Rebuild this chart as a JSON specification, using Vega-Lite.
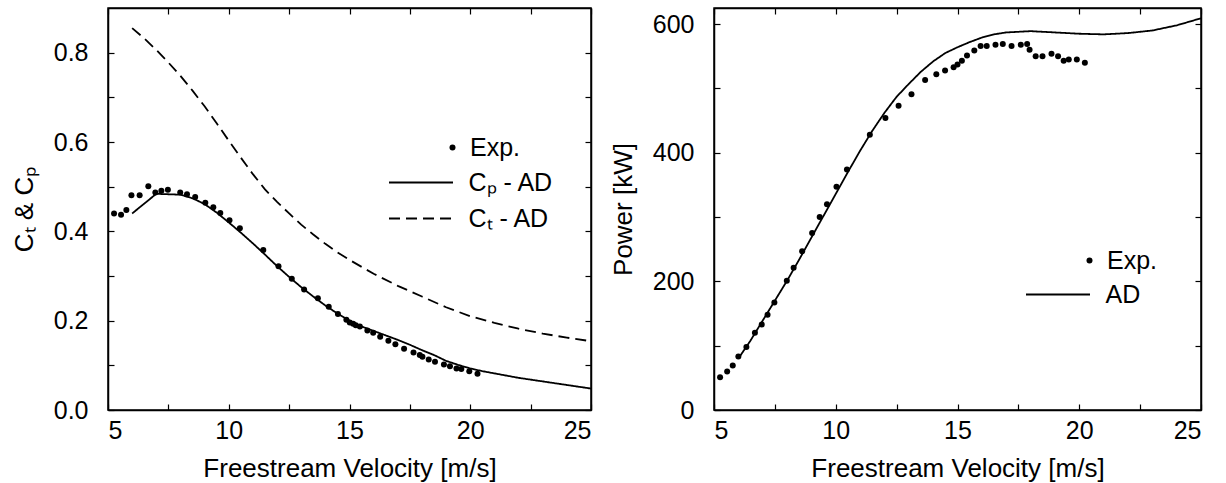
{
  "$schema": "https://vega.github.io/schema/vega-lite/v6.json",
  "padding": {"left": 10, "top": 6, "right": 5, "bottom": 0},
  "bounds": "flush",
  "spacing": 123,
  "resolve": {
    "scale": {"shape": "independent", "strokeDash": "independent"},
    "legend": {"shape": "independent", "strokeDash": "independent"}
  },
  "config": {
    "font": "Liberation Sans",
    "view": {"stroke": "black", "strokeWidth": 1.5},
    "axis": {
      "labelFont": "Liberation Sans", "labelFontSize": 25, "labelColor": "black",
      "titleFont": "Liberation Sans", "titleFontSize": 26, "titleFontWeight": "normal", "titleColor": "black",
      "domainColor": "black", "domainWidth": 1.5, "tickColor": "black", "tickWidth": 1.2,
      "tickSize": -6, "grid": false
    },
    "axisX": {"labelPadding": 14, "titlePadding": 12},
    "axisY": {"labelPadding": 26, "titlePadding": 16},
    "legend": {
      "orient": "none", "title": null, "padding": 0,
      "labelFont": "Liberation Sans", "labelFontSize": 25, "labelColor": "black",
      "symbolStrokeColor": "black", "symbolFillColor": "black", "symbolStrokeWidth": 1.8, "rowPadding": 10
    }
  },
  "datasets": {
    "left": [
      {"v": 5.25, "c": 0.440, "series": "Exp."},
      {"v": 5.54, "c": 0.437, "series": "Exp."},
      {"v": 5.76, "c": 0.448, "series": "Exp."},
      {"v": 5.97, "c": 0.481, "series": "Exp."},
      {"v": 6.31, "c": 0.481, "series": "Exp."},
      {"v": 6.67, "c": 0.501, "series": "Exp."},
      {"v": 6.96, "c": 0.487, "series": "Exp."},
      {"v": 7.21, "c": 0.491, "series": "Exp."},
      {"v": 7.48, "c": 0.493, "series": "Exp."},
      {"v": 7.99, "c": 0.487, "series": "Exp."},
      {"v": 8.27, "c": 0.483, "series": "Exp."},
      {"v": 8.61, "c": 0.477, "series": "Exp."},
      {"v": 9.03, "c": 0.464, "series": "Exp."},
      {"v": 9.36, "c": 0.454, "series": "Exp."},
      {"v": 9.65, "c": 0.441, "series": "Exp."},
      {"v": 10.03, "c": 0.425, "series": "Exp."},
      {"v": 10.46, "c": 0.407, "series": "Exp."},
      {"v": 11.43, "c": 0.358, "series": "Exp."},
      {"v": 12.06, "c": 0.322, "series": "Exp."},
      {"v": 12.61, "c": 0.294, "series": "Exp."},
      {"v": 13.12, "c": 0.270, "series": "Exp."},
      {"v": 13.69, "c": 0.250, "series": "Exp."},
      {"v": 14.14, "c": 0.231, "series": "Exp."},
      {"v": 14.52, "c": 0.215, "series": "Exp."},
      {"v": 14.87, "c": 0.202, "series": "Exp."},
      {"v": 15.01, "c": 0.196, "series": "Exp."},
      {"v": 15.15, "c": 0.193, "series": "Exp."},
      {"v": 15.26, "c": 0.190, "series": "Exp."},
      {"v": 15.43, "c": 0.187, "series": "Exp."},
      {"v": 15.74, "c": 0.178, "series": "Exp."},
      {"v": 15.98, "c": 0.173, "series": "Exp."},
      {"v": 16.27, "c": 0.164, "series": "Exp."},
      {"v": 16.61, "c": 0.155, "series": "Exp."},
      {"v": 16.90, "c": 0.147, "series": "Exp."},
      {"v": 17.26, "c": 0.137, "series": "Exp."},
      {"v": 17.65, "c": 0.129, "series": "Exp."},
      {"v": 17.91, "c": 0.123, "series": "Exp."},
      {"v": 18.02, "c": 0.119, "series": "Exp."},
      {"v": 18.28, "c": 0.113, "series": "Exp."},
      {"v": 18.54, "c": 0.108, "series": "Exp."},
      {"v": 18.91, "c": 0.102, "series": "Exp."},
      {"v": 19.16, "c": 0.098, "series": "Exp."},
      {"v": 19.43, "c": 0.093, "series": "Exp."},
      {"v": 19.63, "c": 0.092, "series": "Exp."},
      {"v": 19.96, "c": 0.087, "series": "Exp."},
      {"v": 20.30, "c": 0.081, "series": "Exp."},
      {"v": 6.0, "c": 0.440, "series": "Cₚ - AD"},
      {"v": 7.0, "c": 0.484, "series": "Cₚ - AD"},
      {"v": 8.0, "c": 0.482, "series": "Cₚ - AD"},
      {"v": 8.5, "c": 0.474, "series": "Cₚ - AD"},
      {"v": 9.0, "c": 0.461, "series": "Cₚ - AD"},
      {"v": 9.5, "c": 0.442, "series": "Cₚ - AD"},
      {"v": 10.0, "c": 0.420, "series": "Cₚ - AD"},
      {"v": 10.5, "c": 0.397, "series": "Cₚ - AD"},
      {"v": 11.0, "c": 0.373, "series": "Cₚ - AD"},
      {"v": 11.5, "c": 0.348, "series": "Cₚ - AD"},
      {"v": 12.0, "c": 0.322, "series": "Cₚ - AD"},
      {"v": 12.5, "c": 0.298, "series": "Cₚ - AD"},
      {"v": 13.0, "c": 0.275, "series": "Cₚ - AD"},
      {"v": 13.5, "c": 0.254, "series": "Cₚ - AD"},
      {"v": 14.0, "c": 0.234, "series": "Cₚ - AD"},
      {"v": 14.5, "c": 0.216, "series": "Cₚ - AD"},
      {"v": 15.0, "c": 0.200, "series": "Cₚ - AD"},
      {"v": 15.5, "c": 0.187, "series": "Cₚ - AD"},
      {"v": 16.0, "c": 0.177, "series": "Cₚ - AD"},
      {"v": 16.5, "c": 0.167, "series": "Cₚ - AD"},
      {"v": 17.0, "c": 0.157, "series": "Cₚ - AD"},
      {"v": 17.5, "c": 0.146, "series": "Cₚ - AD"},
      {"v": 18.0, "c": 0.134, "series": "Cₚ - AD"},
      {"v": 18.5, "c": 0.123, "series": "Cₚ - AD"},
      {"v": 19.0, "c": 0.110, "series": "Cₚ - AD"},
      {"v": 19.5, "c": 0.101, "series": "Cₚ - AD"},
      {"v": 20.0, "c": 0.093, "series": "Cₚ - AD"},
      {"v": 20.5, "c": 0.087, "series": "Cₚ - AD"},
      {"v": 21.0, "c": 0.082, "series": "Cₚ - AD"},
      {"v": 22.0, "c": 0.072, "series": "Cₚ - AD"},
      {"v": 23.0, "c": 0.064, "series": "Cₚ - AD"},
      {"v": 24.0, "c": 0.056, "series": "Cₚ - AD"},
      {"v": 25.0, "c": 0.048, "series": "Cₚ - AD"},
      {"v": 6.0, "c": 0.855, "series": "Cₜ - AD"},
      {"v": 6.5, "c": 0.832, "series": "Cₜ - AD"},
      {"v": 7.0, "c": 0.806, "series": "Cₜ - AD"},
      {"v": 7.5, "c": 0.778, "series": "Cₜ - AD"},
      {"v": 8.0, "c": 0.748, "series": "Cₜ - AD"},
      {"v": 8.5, "c": 0.715, "series": "Cₜ - AD"},
      {"v": 9.0, "c": 0.680, "series": "Cₜ - AD"},
      {"v": 9.5, "c": 0.642, "series": "Cₜ - AD"},
      {"v": 10.0, "c": 0.603, "series": "Cₜ - AD"},
      {"v": 10.5, "c": 0.565, "series": "Cₜ - AD"},
      {"v": 11.0, "c": 0.528, "series": "Cₜ - AD"},
      {"v": 11.5, "c": 0.494, "series": "Cₜ - AD"},
      {"v": 12.0, "c": 0.466, "series": "Cₜ - AD"},
      {"v": 12.5, "c": 0.440, "series": "Cₜ - AD"},
      {"v": 13.0, "c": 0.415, "series": "Cₜ - AD"},
      {"v": 13.5, "c": 0.393, "series": "Cₜ - AD"},
      {"v": 14.0, "c": 0.372, "series": "Cₜ - AD"},
      {"v": 14.5, "c": 0.353, "series": "Cₜ - AD"},
      {"v": 15.0, "c": 0.336, "series": "Cₜ - AD"},
      {"v": 16.0, "c": 0.305, "series": "Cₜ - AD"},
      {"v": 17.0, "c": 0.278, "series": "Cₜ - AD"},
      {"v": 18.0, "c": 0.254, "series": "Cₜ - AD"},
      {"v": 19.0, "c": 0.230, "series": "Cₜ - AD"},
      {"v": 20.0, "c": 0.210, "series": "Cₜ - AD"},
      {"v": 21.0, "c": 0.195, "series": "Cₜ - AD"},
      {"v": 22.0, "c": 0.182, "series": "Cₜ - AD"},
      {"v": 23.0, "c": 0.171, "series": "Cₜ - AD"},
      {"v": 24.0, "c": 0.162, "series": "Cₜ - AD"},
      {"v": 25.0, "c": 0.154, "series": "Cₜ - AD"}
    ],
    "right": [
      {"v": 5.25, "p": 51, "series": "Exp."},
      {"v": 5.54, "p": 60, "series": "Exp."},
      {"v": 5.77, "p": 69, "series": "Exp."},
      {"v": 6.00, "p": 83, "series": "Exp."},
      {"v": 6.33, "p": 98, "series": "Exp."},
      {"v": 6.68, "p": 120, "series": "Exp."},
      {"v": 6.96, "p": 133, "series": "Exp."},
      {"v": 7.20, "p": 148, "series": "Exp."},
      {"v": 7.48, "p": 167, "series": "Exp."},
      {"v": 7.99, "p": 201, "series": "Exp."},
      {"v": 8.27, "p": 221, "series": "Exp."},
      {"v": 8.62, "p": 247, "series": "Exp."},
      {"v": 9.03, "p": 275, "series": "Exp."},
      {"v": 9.34, "p": 300, "series": "Exp."},
      {"v": 9.64, "p": 320, "series": "Exp."},
      {"v": 10.03, "p": 347, "series": "Exp."},
      {"v": 10.46, "p": 374, "series": "Exp."},
      {"v": 11.40, "p": 428, "series": "Exp."},
      {"v": 12.04, "p": 454, "series": "Exp."},
      {"v": 12.58, "p": 473, "series": "Exp."},
      {"v": 13.11, "p": 491, "series": "Exp."},
      {"v": 13.67, "p": 513, "series": "Exp."},
      {"v": 14.13, "p": 522, "series": "Exp."},
      {"v": 14.49, "p": 528, "series": "Exp."},
      {"v": 14.84, "p": 533, "series": "Exp."},
      {"v": 15.00, "p": 537, "series": "Exp."},
      {"v": 15.18, "p": 543, "series": "Exp."},
      {"v": 15.39, "p": 551, "series": "Exp."},
      {"v": 15.69, "p": 559, "series": "Exp."},
      {"v": 15.95, "p": 566, "series": "Exp."},
      {"v": 16.20, "p": 566, "series": "Exp."},
      {"v": 16.56, "p": 568, "series": "Exp."},
      {"v": 16.86, "p": 569, "series": "Exp."},
      {"v": 17.22, "p": 566, "series": "Exp."},
      {"v": 17.60, "p": 568, "series": "Exp."},
      {"v": 17.86, "p": 569, "series": "Exp."},
      {"v": 17.96, "p": 560, "series": "Exp."},
      {"v": 18.21, "p": 550, "series": "Exp."},
      {"v": 18.49, "p": 550, "series": "Exp."},
      {"v": 18.86, "p": 554, "series": "Exp."},
      {"v": 19.13, "p": 550, "series": "Exp."},
      {"v": 19.36, "p": 543, "series": "Exp."},
      {"v": 19.57, "p": 545, "series": "Exp."},
      {"v": 19.90, "p": 545, "series": "Exp."},
      {"v": 20.23, "p": 540, "series": "Exp."},
      {"v": 6.0, "p": 80, "series": "AD"},
      {"v": 6.5, "p": 108, "series": "AD"},
      {"v": 7.0, "p": 139, "series": "AD"},
      {"v": 7.5, "p": 170, "series": "AD"},
      {"v": 8.0, "p": 201, "series": "AD"},
      {"v": 8.5, "p": 234, "series": "AD"},
      {"v": 9.0, "p": 268, "series": "AD"},
      {"v": 9.5, "p": 302, "series": "AD"},
      {"v": 10.0, "p": 336, "series": "AD"},
      {"v": 10.5, "p": 370, "series": "AD"},
      {"v": 11.0, "p": 403, "series": "AD"},
      {"v": 11.5, "p": 434, "series": "AD"},
      {"v": 12.0, "p": 462, "series": "AD"},
      {"v": 12.5, "p": 487, "series": "AD"},
      {"v": 13.0, "p": 507, "series": "AD"},
      {"v": 13.5, "p": 526, "series": "AD"},
      {"v": 14.0, "p": 542, "series": "AD"},
      {"v": 14.5, "p": 555, "series": "AD"},
      {"v": 15.0, "p": 564, "series": "AD"},
      {"v": 15.5, "p": 572, "series": "AD"},
      {"v": 16.0, "p": 579, "series": "AD"},
      {"v": 16.5, "p": 584, "series": "AD"},
      {"v": 17.0, "p": 587, "series": "AD"},
      {"v": 18.0, "p": 589, "series": "AD"},
      {"v": 19.0, "p": 587, "series": "AD"},
      {"v": 20.0, "p": 585, "series": "AD"},
      {"v": 21.0, "p": 584, "series": "AD"},
      {"v": 22.0, "p": 586, "series": "AD"},
      {"v": 23.0, "p": 590, "series": "AD"},
      {"v": 24.0, "p": 598, "series": "AD"},
      {"v": 25.0, "p": 609, "series": "AD"}
    ]
  },
  "hconcat": [
    {
      "width": 483,
      "height": 402,
      "data": {"name": "left"},
      "resolve": {"axis": {"x": "independent", "y": "independent"}},
      "layer": [
        {
          "transform": [{"filter": "datum.series === 'Exp.'"}],
          "mark": {"type": "point", "filled": true, "size": 36, "opacity": 1, "color": "black"},
          "encoding": {
            "x": {"field": "v", "type": "quantitative", "scale": {"domain": [5, 25], "nice": false, "zero": false},
              "axis": {"orient": "bottom", "values": [5, 7.5, 10, 12.5, 15, 17.5, 20, 22.5, 25], "labelExpr": "datum.value % 5 === 0 ? datum.label : ''", "title": "Freestream Velocity [m/s]"}},
            "y": {"field": "c", "type": "quantitative", "scale": {"domain": [0, 0.9], "nice": false},
              "axis": {"orient": "left", "values": [0, 0.1, 0.2, 0.3, 0.4, 0.5, 0.6, 0.7, 0.8], "format": ".1f", "labelExpr": "indexof(['0.0','0.2','0.4','0.6','0.8'], datum.label) >= 0 ? datum.label : ''", "title": "Cₜ & Cₚ"}},
            "shape": {"field": "series", "type": "nominal",
              "scale": {"domain": ["Exp."], "range": ["circle"]},
              "legend": {"legendX": 332, "legendY": 127, "symbolSize": 36, "labelOffset": 5}}
          }
        },
        {
          "transform": [{"filter": "datum.series !== 'Exp.'"}],
          "mark": {"type": "line", "strokeWidth": 1.8, "color": "black"},
          "encoding": {
            "x": {"field": "v", "type": "quantitative", "scale": {"domain": [5, 25], "nice": false, "zero": false},
              "axis": {"orient": "top", "values": [5, 7.5, 10, 12.5, 15, 17.5, 20, 22.5, 25], "labels": false, "title": null}},
            "y": {"field": "c", "type": "quantitative", "scale": {"domain": [0, 0.9], "nice": false},
              "axis": {"orient": "right", "values": [0, 0.1, 0.2, 0.3, 0.4, 0.5, 0.6, 0.7, 0.8], "labels": false, "title": null}},
            "strokeDash": {"field": "series", "type": "nominal",
              "scale": {"domain": ["Cₚ - AD", "Cₜ - AD"], "range": [[1, 0], [11, 6]]},
              "legend": {"legendX": 281, "legendY": 162, "symbolType": "M-3.2,0L3.2,0", "symbolSize": 400, "symbolOffset": 19.5, "labelOffset": 35}}
          }
        }
      ]
    },
    {
      "width": 487,
      "height": 402,
      "data": {"name": "right"},
      "resolve": {"axis": {"x": "independent", "y": "independent"}},
      "layer": [
        {
          "transform": [{"filter": "datum.series === 'Exp.'"}],
          "mark": {"type": "point", "filled": true, "size": 36, "opacity": 1, "color": "black"},
          "encoding": {
            "x": {"field": "v", "type": "quantitative", "scale": {"domain": [5, 25], "nice": false, "zero": false},
              "axis": {"orient": "bottom", "values": [5, 7.5, 10, 12.5, 15, 17.5, 20, 22.5, 25], "labelExpr": "datum.value % 5 === 0 ? datum.label : ''", "title": "Freestream Velocity [m/s]"}},
            "y": {"field": "p", "type": "quantitative", "scale": {"domain": [0, 625], "nice": false},
              "axis": {"orient": "left", "values": [0, 100, 200, 300, 400, 500, 600], "labelExpr": "datum.value % 200 === 0 ? datum.label : ''", "title": "Power [kW]", "titlePadding": 16}},
            "shape": {"field": "series", "type": "nominal",
              "scale": {"domain": ["Exp."], "range": ["circle"]},
              "legend": {"legendX": 363, "legendY": 240, "symbolSize": 36, "labelOffset": 5}}
          }
        },
        {
          "transform": [{"filter": "datum.series !== 'Exp.'"}],
          "mark": {"type": "line", "strokeWidth": 1.8, "color": "black"},
          "encoding": {
            "x": {"field": "v", "type": "quantitative", "scale": {"domain": [5, 25], "nice": false, "zero": false},
              "axis": {"orient": "top", "values": [5, 7.5, 10, 12.5, 15, 17.5, 20, 22.5, 25], "labels": false, "title": null}},
            "y": {"field": "p", "type": "quantitative", "scale": {"domain": [0, 625], "nice": false},
              "axis": {"orient": "right", "values": [0, 100, 200, 300, 400, 500, 600], "labels": false, "title": null}},
            "strokeDash": {"field": "series", "type": "nominal",
              "scale": {"domain": ["AD"], "range": [[1, 0]]},
              "legend": {"legendX": 312, "legendY": 274, "symbolType": "M-3.2,0L3.2,0", "symbolSize": 400, "symbolOffset": 19.5, "labelOffset": 35}}
          }
        }
      ]
    }
  ]
}
